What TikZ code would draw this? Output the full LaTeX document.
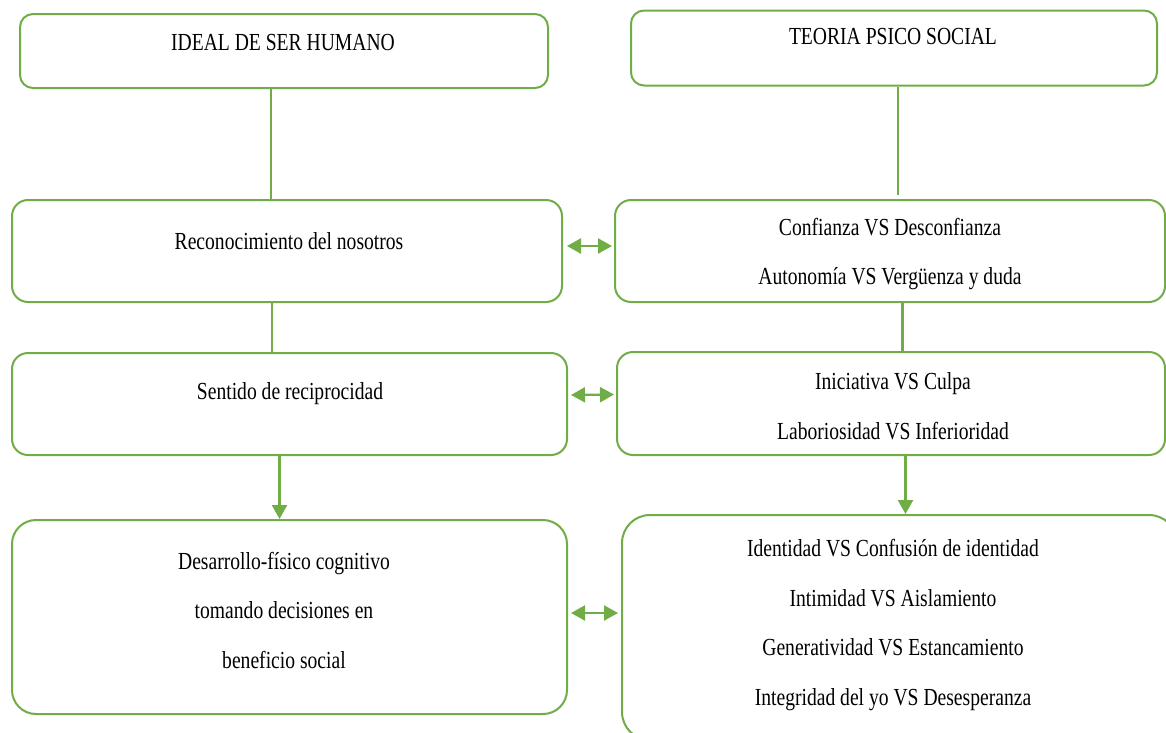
\documentclass[tikz,border=0pt]{standalone}
\usepackage{fontspec}
\setmainfont{Liberation Serif}[FakeStretch=0.8]
\usetikzlibrary{arrows.meta}
\definecolor{grn}{RGB}{112,173,71}
\tikzset{
  box/.style={draw=grn, line width=2pt, rounded corners=#1, fill=white, inner sep=0pt},
  box/.default=14pt,
  txt/.style={font=\fontsize{24.5}{49.5}\selectfont, align=center, inner sep=0pt, text=black},
  link/.style={draw=grn, line width=2.2pt},
  arr/.style={link, -{Triangle[length=14pt,width=15pt]}},
  darr/.style={link, {Triangle[length=14pt,width=15pt]}-{Triangle[length=14pt,width=15pt]}}
}
\begin{document}
\begin{tikzpicture}[x=1pt,y=-1pt]
\useasboundingbox (0,0) rectangle (1166,732);
\clip (0,0) rectangle (1166,732);
% left column
\node[box=13pt, minimum width=528pt, minimum height=74pt] (b1) at (284,51) {};
\node[box=16pt, minimum width=550pt, minimum height=102pt] (b2) at (287,251) {};
\node[box=16pt, minimum width=555pt, minimum height=102pt] (b3) at (289.5,404) {};
\node[box=24pt, minimum width=555pt, minimum height=194pt] (b4) at (289.5,617) {};
% right column
\node[box=13pt, minimum width=526pt, minimum height=75pt] (r1) at (894,48) {};
\node[box=16pt, minimum width=550pt, minimum height=102pt] (r2) at (890,251) {};
\node[box=16pt, minimum width=548pt, minimum height=103pt] (r3) at (891,403.5) {};
\node[box=28pt, minimum width=555pt, minimum height=225pt] (r4) at (899.5,627.5) {};
% texts
\node[txt] (t1) at (283,43) {IDEAL DE SER HUMANO};
\node[txt] (t2) at (289,241) {Reconocimiento del nosotros};
\node[txt] (t3) at (290,394) {Sentido de reciprocidad};
\node[txt] (t4) at (284,610) {Desarrollo-físico cognitivo\\tomando decisiones en\\beneficio social};
\node[txt] (u1) at (893,37) {TEORIA PSICO SOCIAL};
\node[txt] (u2) at (890,254) {Confianza VS Desconfianza\\Autonomía VS Vergüenza y duda};
\node[txt] (u3) at (893,406) {Iniciativa VS Culpa\\Laboriosidad VS Inferioridad};
\node[txt] (u4) at (893,625) {Identidad VS Confusión de identidad\\Intimidad VS Aislamiento\\Generatividad VS Estancamiento\\Integridad del yo VS Desesperanza};
% vertical connectors
\draw[link] ([xshift=-13pt]b1.south) -- ([xshift=-13pt]b1.south |- b2.north);
\draw[link] ([xshift=-15pt]b2.south) -- ([xshift=-15pt]b2.south |- b3.north);
\draw[arr] ([xshift=-10pt]b3.south) -- ([xshift=-10pt]b3.south |- b4.north);
\draw[link] ([xshift=4pt]r1.south) -- ([xshift=4pt,yshift=4pt]r1.south |- r2.north);
\draw[link] ([xshift=12.5pt]r2.south) -- ([xshift=12.5pt]r2.south |- r3.north);
\draw[arr] ([xshift=14.5pt]r3.south) -- ([xshift=14.5pt]r3.south |- r4.north);
% horizontal double arrows
\draw[darr] ([xshift=4pt,yshift=5pt]b2.east) -- ([xshift=-2pt,yshift=5pt]r2.west);
\draw[darr] ([xshift=3pt,yshift=9pt]b3.east) -- ([xshift=-2pt,yshift=9pt]r3.west);
\draw[darr] ([xshift=3pt,yshift=4pt]b4.east) -- ([xshift=-3pt,yshift=4pt]b4.east -| r4.west);
\end{tikzpicture}
\end{document}
